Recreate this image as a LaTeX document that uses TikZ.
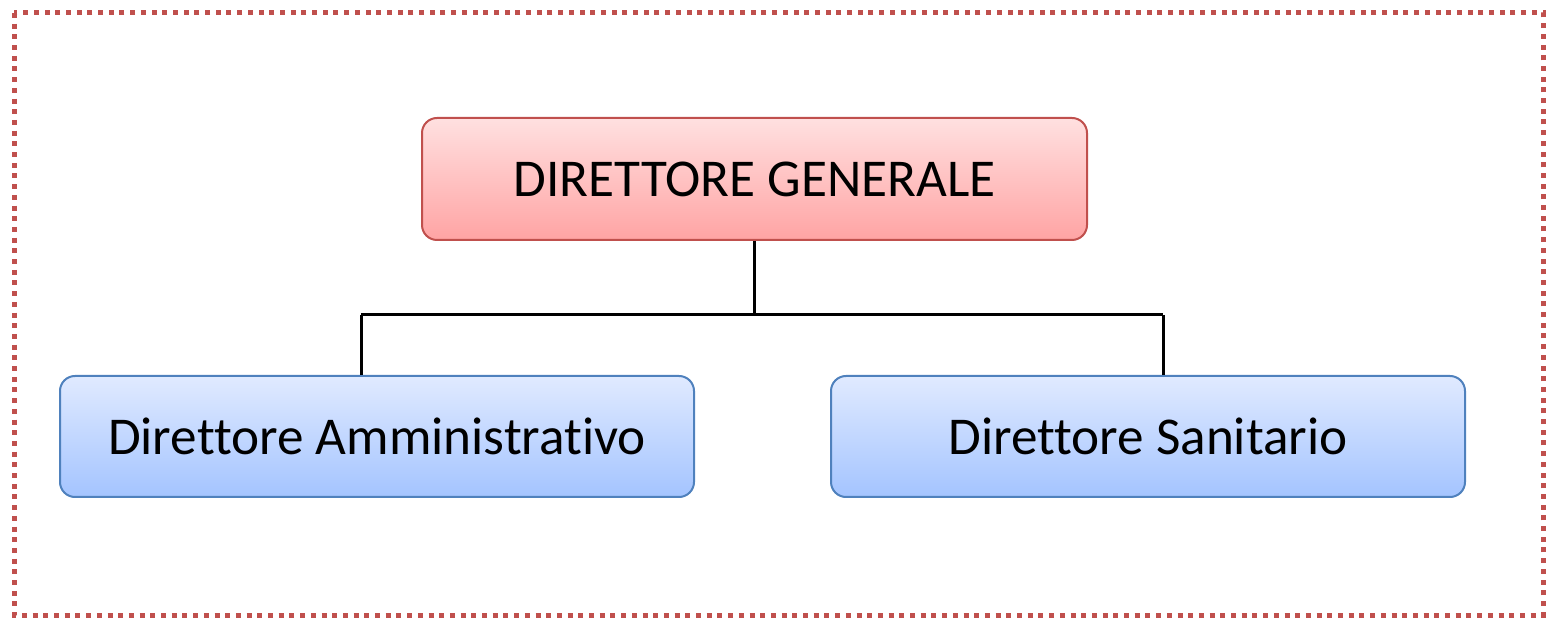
\documentclass[tikz,border=0pt]{standalone}
\usepackage{fontspec}
\setmainfont[Ligatures=NoCommon]{Carlito}
\definecolor{frame}{RGB}{192,80,77}
\definecolor{redline}{RGB}{192,80,77}
\definecolor{redtop}{RGB}{255,224,224}
\definecolor{redbot}{RGB}{255,164,164}
\definecolor{blueline}{RGB}{79,129,189}
\definecolor{bluetop}{RGB}{224,234,255}
\definecolor{bluebot}{RGB}{164,196,255}
\tikzset{
  redbox/.style={draw=redline, line width=1pt, rounded corners=7.5pt, top color=redtop, bottom color=redbot, minimum width=332.5pt, minimum height=61pt, inner sep=0pt, font=\fontsize{26.6}{32}\selectfont},
  bluebox/.style={draw=blueline, line width=1pt, rounded corners=7.5pt, top color=bluetop, bottom color=bluebot, minimum width=317pt, minimum height=60.5pt, inner sep=0pt, font=\fontsize{26.6}{32}\selectfont},
  conn/.style={line width=1.5pt, black},
  outer/.style={draw=frame, line width=2.5pt, dash pattern=on 2.5pt off 2.85pt}
}
\begin{document}
\begin{tikzpicture}[x=0.5pt,y=-0.5pt]
\useasboundingbox (0,0) rectangle (1547,619);
\draw[outer] (14,13) rectangle (1543,615);
\node[redbox] (dg) at (754.5,179) {DIRETTORE GENERALE};
\node[bluebox] (da) at (377,436.5) {Direttore Amministrativo};
\node[bluebox] (ds) at (1148,436.5) {Direttore Sanitario};
\coordinate (jl) at (361,315);
\coordinate (jr) at (1163,315);
\draw[conn] (dg.south) -- (dg.south |- jl);
\draw[conn] (jl) -- (jr);
\draw[conn] (jl) -- (jl |- da.north);
\draw[conn] (jr) -- (jr |- ds.north);
\end{tikzpicture}
\end{document}
